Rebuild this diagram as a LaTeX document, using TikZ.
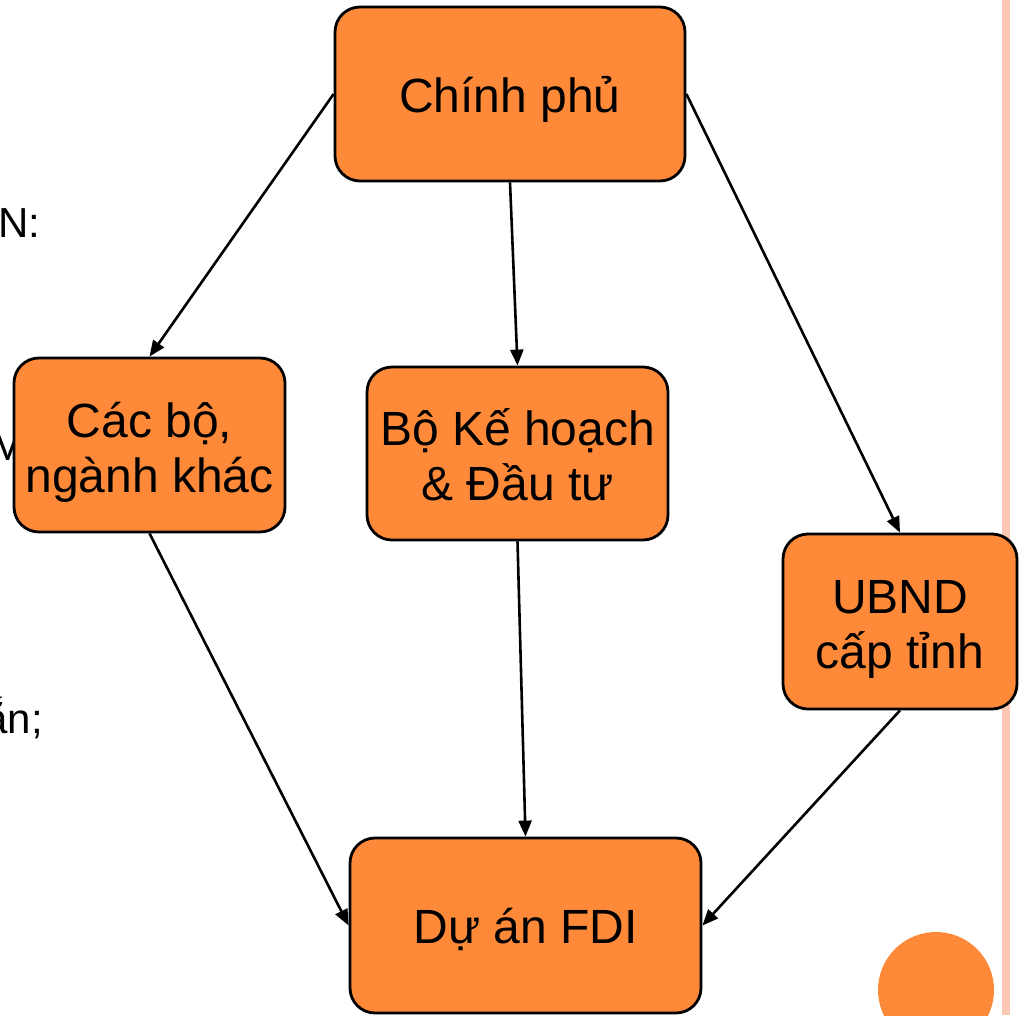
\documentclass[tikz,border=0pt]{standalone}
\usepackage{fontspec}
\setmainfont{Liberation Sans}
\usetikzlibrary{arrows.meta}
\definecolor{boxorange}{RGB}{254,137,56}
\definecolor{edgepink}{RGB}{254,200,180}

\begin{document}
\begin{tikzpicture}[x=1pt, y=-1pt,
  orgbox/.style={draw=black, line width=2.8pt, fill=boxorange, rounded corners=25pt,
    inner sep=0pt, align=center, font=\fontsize{48}{55}\selectfont},
  oneline/.style={orgbox, text height=42pt, text depth=6pt},
  twoline/.style={orgbox, text height=100pt, text depth=6pt},
  link/.style={line width=2.6pt, -{Triangle[length=16pt,width=13pt]}},
  slidetext/.style={inner sep=0pt, font=\fontsize{42}{48}\selectfont}]
% Slide region
\useasboundingbox (0,0) rectangle (1019,1015);
\clip (0,0) rectangle (1019,1015);
% Slide background: text behind the chart, side bar, round mark
\node[slidetext, anchor=base west] (txtN) at (-2,237) {N:};
\node[slidetext, anchor=base west] (txtM) at (-10,460) {M};
\node[slidetext, anchor=base east] (txtA) at (43,733) {ắn;};
\fill[edgepink] (1002,0) rectangle (1010,1015);
\fill[boxorange] (936,990) circle (58);
% Boxes
\node[oneline, minimum width=350pt, minimum height=174pt] (gov) at (510,94) {Chính phủ};
\node[twoline, minimum width=271pt, minimum height=174pt] (other) at (149.5,445) {Các bộ,\\ngành khác};
\node[twoline, minimum width=301pt, minimum height=173pt] (mpi) at (517.5,453.5) {Bộ Kế hoạch\\\& Đầu tư};
\node[twoline, minimum width=234pt, minimum height=175pt] (pc) at (900,621.5) {UBND\\cấp tỉnh};
\node[oneline, minimum width=351pt, minimum height=175pt] (fdi) at (525.5,925.5) {Dự án FDI};
% Connectors
\draw[link] (gov.west) -- (other.north);
\draw[link] (gov.south) -- (mpi.north);
\draw[link] (gov.east) -- (pc.north);
\draw[link] (other.south) -- (fdi.west);
\draw[link] (mpi.south) -- (fdi.north);
\draw[link] (pc.south) -- (fdi.east);
\end{tikzpicture}
\end{document}
